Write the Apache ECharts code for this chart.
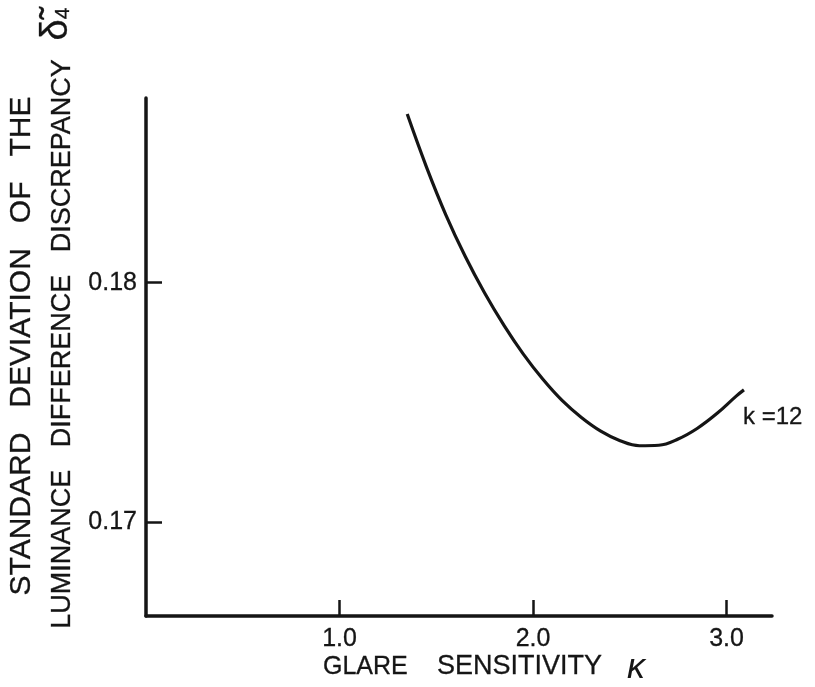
<!DOCTYPE html>
<html>
<head>
<meta charset="utf-8">
<script src="https://cdn.jsdelivr.net/npm/echarts@6/dist/echarts.min.js"></script>
<style>
  html, body { margin: 0; padding: 0; background: #ffffff; }
  #chart { width: 815px; height: 687px; }
</style>
</head>
<body>
<div id="chart"></div>
<script>
// Glare sensitivity (kappa) vs. standard deviation of the luminance difference discrepancy, k = 12
const glareSensitivity = [1.35, 1.45, 1.55, 1.65, 1.75, 1.85, 1.95, 2.05, 2.15, 2.25, 2.35, 2.45, 2.55, 2.65, 2.75, 2.85, 2.95, 3.05, 3.09];
const stdDeviation     = [0.18703, 0.18481, 0.18282, 0.18109, 0.17957, 0.17822, 0.17702, 0.17598, 0.17509, 0.17438,
                          0.17381, 0.17341, 0.17320, 0.17322, 0.17348, 0.17393, 0.17454, 0.17527, 0.17553];
const xTicks = [1.0, 2.0, 3.0];
const yTicks = [0.17, 0.18];

const FONT = '"Liberation Sans", Arial, sans-serif';
const INK = '#151515';

// shared look for the hand-lettered captions
function lettering(size, extra) {
  return Object.assign({
    fontFamily: FONT, fontSize: size, fill: INK,
    stroke: INK, lineWidth: 0.3
  }, extra || {});
}

const chart = echarts.init(document.getElementById('chart'), null, { renderer: 'canvas' });

chart.setOption({
  animation: false,
  backgroundColor: '#ffffff',
  grid: { left: 146, right: 43, top: 98, bottom: 71, containLabel: false },
  xAxis: {
    type: 'value',
    min: 0,
    max: 3.235,
    splitLine: { show: false },
    axisLine: { show: true, lineStyle: { color: INK, width: 3.5 } },
    axisTick: { show: true, inside: true, length: 16, customValues: xTicks, lineStyle: { color: INK, width: 2.5 } },
    axisLabel: {
      show: true, customValues: xTicks, margin: 11,
      formatter: v => v.toFixed(1),
      fontFamily: FONT, fontSize: 25, color: INK,
      textBorderColor: INK, textBorderWidth: 0.3
    }
  },
  yAxis: {
    type: 'value',
    min: 0.1661,
    max: 0.1877,
    splitLine: { show: false },
    axisLine: { show: true, lineStyle: { color: INK, width: 3.5 } },
    axisTick: { show: true, inside: true, length: 16, customValues: yTicks, lineStyle: { color: INK, width: 2.5 } },
    axisLabel: {
      show: true, customValues: yTicks, margin: 9,
      formatter: v => v.toFixed(2),
      fontFamily: FONT, fontSize: 25, color: INK,
      textBorderColor: INK, textBorderWidth: 0.3
    }
  },
  series: [{
    type: 'line',
    data: glareSensitivity.map((x, i) => [x, stdDeviation[i]]),
    smooth: 0.4,
    showSymbol: false,
    lineStyle: { color: INK, width: 3.2 }
  }],
  graphic: [
    {
      type: 'text', x: 22, y: 346, rotation: Math.PI / 2,
      style: lettering(30, {
        text: 'STANDARD   DEVIATION   OF   THE',
        align: 'center', verticalAlign: 'middle'
      })
    },
    {
      type: 'text', x: 63, y: 344, rotation: Math.PI / 2,
      style: lettering(27, {
        text: 'LUMINANCE   DIFFERENCE   DISCREPANCY',
        align: 'center', verticalAlign: 'middle'
      })
    },
    {
      type: 'text', x: 57, y: 24, rotation: Math.PI / 2,
      style: {
        text: '{d|δ̃}{s|4}',
        align: 'center', verticalAlign: 'middle',
        rich: {
          d: lettering(38),
          s: lettering(21, { padding: [12, 0, 0, 0] })
        }
      }
    },
    // x-axis caption, word by word
    { type: 'text', x: 323, y: 667, style: lettering(25, { text: 'GLARE', align: 'left', verticalAlign: 'middle' }) },
    { type: 'text', x: 437, y: 667, style: lettering(27, { text: 'SENSITIVITY', align: 'left', verticalAlign: 'middle' }) },
    { type: 'text', x: 627, y: 668, style: lettering(36, { text: 'κ', fontStyle: 'italic', lineWidth: 0, align: 'left', verticalAlign: 'middle' }) },
    // curve label
    { type: 'text', x: 743, y: 417, style: lettering(24, { text: 'k =12', align: 'left', verticalAlign: 'middle' }) }
  ]
});
</script>
</body>
</html>
